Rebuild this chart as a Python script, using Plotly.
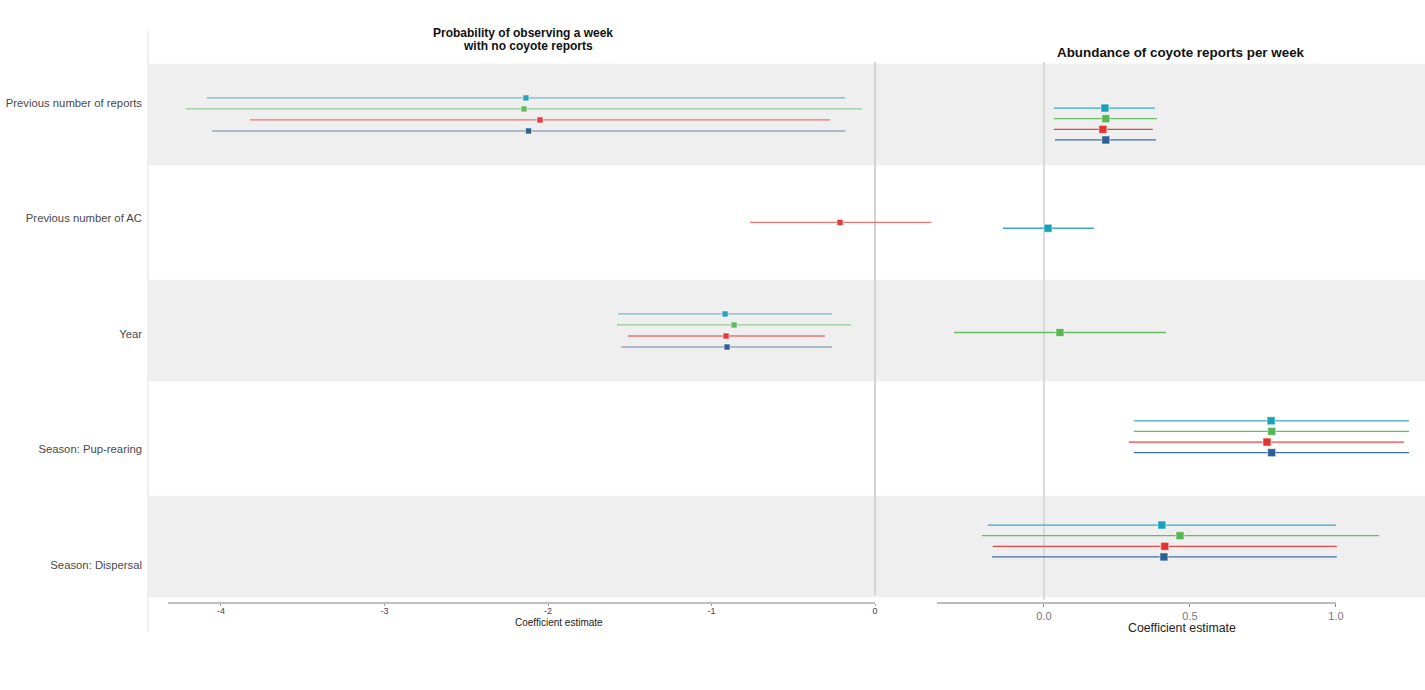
import plotly.graph_objects as go

# ---------------- data ----------------
categories = ["Previous number of reports", "Previous number of AC", "Year",
              "Season: Pup-rearing", "Season: Dispersal"]
series_names = ["Model 1", "Model 2", "Model 3", "Model 4"]

# Left panel: probability of observing a week with no coyote reports
left_m1_est = [-2.135, None, -0.917, None, None]
left_m1_lo = [-4.086, None, -1.572, None, None]
left_m1_hi = [-0.183, None, -0.263, None, None]
left_m2_est = [-2.147, None, -0.862, None, None]
left_m2_lo = [-4.214, None, -1.578, None, None]
left_m2_hi = [-0.080, None, -0.147, None, None]
left_m3_est = [-2.049, -0.214, -0.911, None, None]
left_m3_lo = [-3.823, -0.765, -1.511, None, None]
left_m3_hi = [-0.275, 0.343, -0.306, None, None]
left_m4_est = [-2.119, None, -0.905, None, None]
left_m4_lo = [-4.055, None, -1.553, None, None]
left_m4_hi = [-0.183, None, -0.263, None, None]

# Right panel: abundance of coyote reports per week
right_m1_est = [0.209, 0.014, None, 0.778, 0.404]
right_m1_lo = [0.034, -0.140, None, 0.308, -0.192]
right_m1_hi = [0.380, 0.171, None, 1.250, 1.000]
right_m2_est = [0.212, None, 0.055, 0.780, 0.466]
right_m2_lo = [0.034, None, -0.308, 0.308, -0.212]
right_m2_hi = [0.387, None, 0.418, 1.250, 1.147]
right_m3_est = [0.202, None, None, 0.764, 0.414]
right_m3_lo = [0.034, None, None, 0.291, -0.175]
right_m3_hi = [0.373, None, None, 1.233, 1.003]
right_m4_est = [0.212, None, None, 0.780, 0.411]
right_m4_lo = [0.038, None, None, 0.308, -0.178]
right_m4_hi = [0.384, None, None, 1.250, 1.003]

left_ticks = [-4, -3, -2, -1, 0]
left_ticktext = ["-4", "-3", "-2", "-1", "0"]
right_ticks = [0.0, 0.5, 1.0]
right_ticktext = ["0.0", "0.5", "1.0"]

# ---------------- styling ----------------
marker_colors = ["#2f9fbd", "#63b863", "#e33a3a", "#2f5f93"]
left_line_colors = ["rgba(70,170,195,0.75)", "rgba(110,190,110,0.7)",
                    "rgba(235,80,80,0.8)", "rgba(80,110,150,0.55)"]
right_line_colors = ["#3aa8bd", "#66bb66", "#e84545", "#3f6ea6"]
right_marker_colors = ["#1aa0b8", "#55b855", "#e33434", "#2e6098"]
dodge = 0.102

left_data = [(left_m1_est, left_m1_lo, left_m1_hi), (left_m2_est, left_m2_lo, left_m2_hi),
             (left_m3_est, left_m3_lo, left_m3_hi), (left_m4_est, left_m4_lo, left_m4_hi)]
right_data = [(right_m1_est, right_m1_lo, right_m1_hi), (right_m2_est, right_m2_lo, right_m2_hi),
              (right_m3_est, right_m3_lo, right_m3_hi), (right_m4_est, right_m4_lo, right_m4_hi)]


def dodged_positions(data):
    """y position of each (series, category) dodged within the category."""
    pos = [[None] * len(categories) for _ in data]
    for c in range(len(categories)):
        present = [s for s in range(len(data)) if data[s][0][c] is not None]
        n = len(present)
        for k, s in enumerate(present):
            pos[s][c] = c + (k - (n - 1) / 2) * dodge
    return pos


fig = go.Figure()

# invisible trace to create the label subplot
fig.add_trace(go.Scatter(x=[None], y=[None], xaxis="x", yaxis="y", showlegend=False,
                         hoverinfo="skip"))


def add_panel(data, xa, ya, line_cols, mk_cols, msize, lw):
    pos = dodged_positions(data)
    for s, (est, lo, hi) in enumerate(data):
        lx, ly = [], []
        px, py = [], []
        for c in range(len(categories)):
            if est[c] is None:
                continue
            lx += [lo[c], hi[c], None]
            ly += [pos[s][c], pos[s][c], None]
            px.append(est[c])
            py.append(pos[s][c])
        fig.add_trace(go.Scatter(x=lx, y=ly, mode="lines", xaxis=xa, yaxis=ya,
                                 line=dict(color=line_cols[s], width=lw),
                                 showlegend=False, hoverinfo="skip"))
        fig.add_trace(go.Scatter(x=px, y=py, mode="markers", xaxis=xa, yaxis=ya,
                                 name=series_names[s],
                                 marker=dict(symbol="square", size=msize, color=mk_cols[s],
                                             line=dict(color="rgba(255,255,255,0.55)", width=1)),
                                 showlegend=False))


add_panel(left_data, "x", "y2", left_line_colors, marker_colors, 6, 1.3)
add_panel(right_data, "x2", "y3", right_line_colors, right_marker_colors, 8, 1.3)

W, H = 1425, 690
dom_y = [(H - 603) / H, (H - 45) / H]
left_dom = [168 / W, 937 / W]
right_dom = [937 / W, 1.0]
left_range = [-4.324, 0.379]
right_range = [-0.366, 1.305]

shapes = []
# alternating background bands
for i in range(0, len(categories), 2):
    shapes.append(dict(type="rect", xref="paper", yref="y2", x0=148 / W, x1=1.0,
                       y0=i - 0.47, y1=i + 0.47, fillcolor="#efefef",
                       line=dict(width=0), layer="below"))
# zero reference lines
shapes.append(dict(type="line", xref="x", yref="paper", x0=0, x1=0,
                   y0=(H - 595) / H, y1=(H - 62) / H,
                   line=dict(color="#d2d2d2", width=2), layer="below"))
shapes.append(dict(type="line", xref="x2", yref="paper", x0=0, x1=0,
                   y0=(H - 600) / H, y1=(H - 62) / H,
                   line=dict(color="#d8d8d8", width=2), layer="below"))
# axis lines (ending at the last tick, as in the reference)
shapes.append(dict(type="line", xref="x", yref="paper", x0=left_range[0], x1=left_ticks[-1],
                   y0=dom_y[0], y1=dom_y[0],
                   line=dict(color="#a8a8a8", width=1.5)))
shapes.append(dict(type="line", xref="x2", yref="paper", x0=right_range[0], x1=right_ticks[-1],
                   y0=dom_y[0], y1=dom_y[0],
                   line=dict(color="#7a7a7a", width=1)))
# faint left border
shapes.append(dict(type="line", xref="paper", yref="paper", x0=148 / W, x1=148 / W,
                   y0=(H - 632) / H, y1=(H - 30) / H,
                   line=dict(color="#ececec", width=1.5), layer="below"))

font_main = "Liberation Sans, Arial, sans-serif"
font_narrow = "Liberation Sans Narrow, Liberation Sans, Arial, sans-serif"

fig.update_layout(
    width=W, height=H,
    margin=dict(l=0, r=0, t=0, b=0),
    paper_bgcolor="white", plot_bgcolor="rgba(0,0,0,0)",
    showlegend=False,
    shapes=shapes,
    font=dict(family=font_main),
    xaxis=dict(domain=left_dom, range=left_range, anchor="y2",
               tickvals=left_ticks, ticktext=left_ticktext,
               ticks="outside", ticklen=2, tickcolor="#999",
               showline=False, showgrid=False, zeroline=False,
               ticklabelstandoff=-3,
               tickfont=dict(size=9, color="#444", family=font_narrow)),
    xaxis2=dict(domain=right_dom, range=right_range, anchor="y3",
                tickvals=right_ticks, ticktext=right_ticktext, ticks="outside",
                ticklen=3, tickcolor="#888",
                showline=False, showgrid=False, zeroline=False,
                tickfont=dict(size=11, color="#777")),
    yaxis=dict(domain=dom_y, range=[4.329, -0.502], anchor="free", position=148 / W,
               tickvals=list(range(len(categories))), ticktext=categories,
               ticks="", showgrid=False, zeroline=False, showline=False,
               ticklabelstandoff=6,
               tickfont=dict(size=11.3, color="#4a4a4a")),
    yaxis2=dict(domain=dom_y, range=[4.523, -0.643], overlaying="y", anchor="x",
                visible=False),
    yaxis3=dict(domain=dom_y, range=[4.595, -0.758], overlaying="y", anchor="x2",
                visible=False),
    annotations=[
        dict(text="<b>Probability of observing a week</b>",
             xref="paper", yref="paper", x=523 / W, y=(H - 33) / H,
             showarrow=False, xanchor="center", yanchor="middle",
             font=dict(size=12, color="#111")),
        dict(text="<b>with no coyote reports</b>",
             xref="paper", yref="paper", x=528 / W, y=(H - 46) / H,
             showarrow=False, xanchor="center", yanchor="middle",
             font=dict(size=12, color="#111")),
        dict(text="<b>Abundance of coyote reports per week</b>",
             xref="paper", yref="paper", x=1181 / W, y=(H - 52) / H,
             showarrow=False, xanchor="center", yanchor="middle",
             font=dict(size=13.4, color="#111")),
        dict(text="Coefficient estimate", xref="paper", yref="paper",
             x=559 / W, y=(H - 622) / H, showarrow=False,
             xanchor="center", yanchor="middle",
             font=dict(size=10, color="#222", family=font_narrow)),
        dict(text="Coefficient estimate", xref="paper", yref="paper",
             x=1182 / W, y=(H - 628) / H, showarrow=False,
             xanchor="center", yanchor="middle",
             font=dict(size=12.3, color="#222")),
    ],
)

fig.write_html("out.html")
